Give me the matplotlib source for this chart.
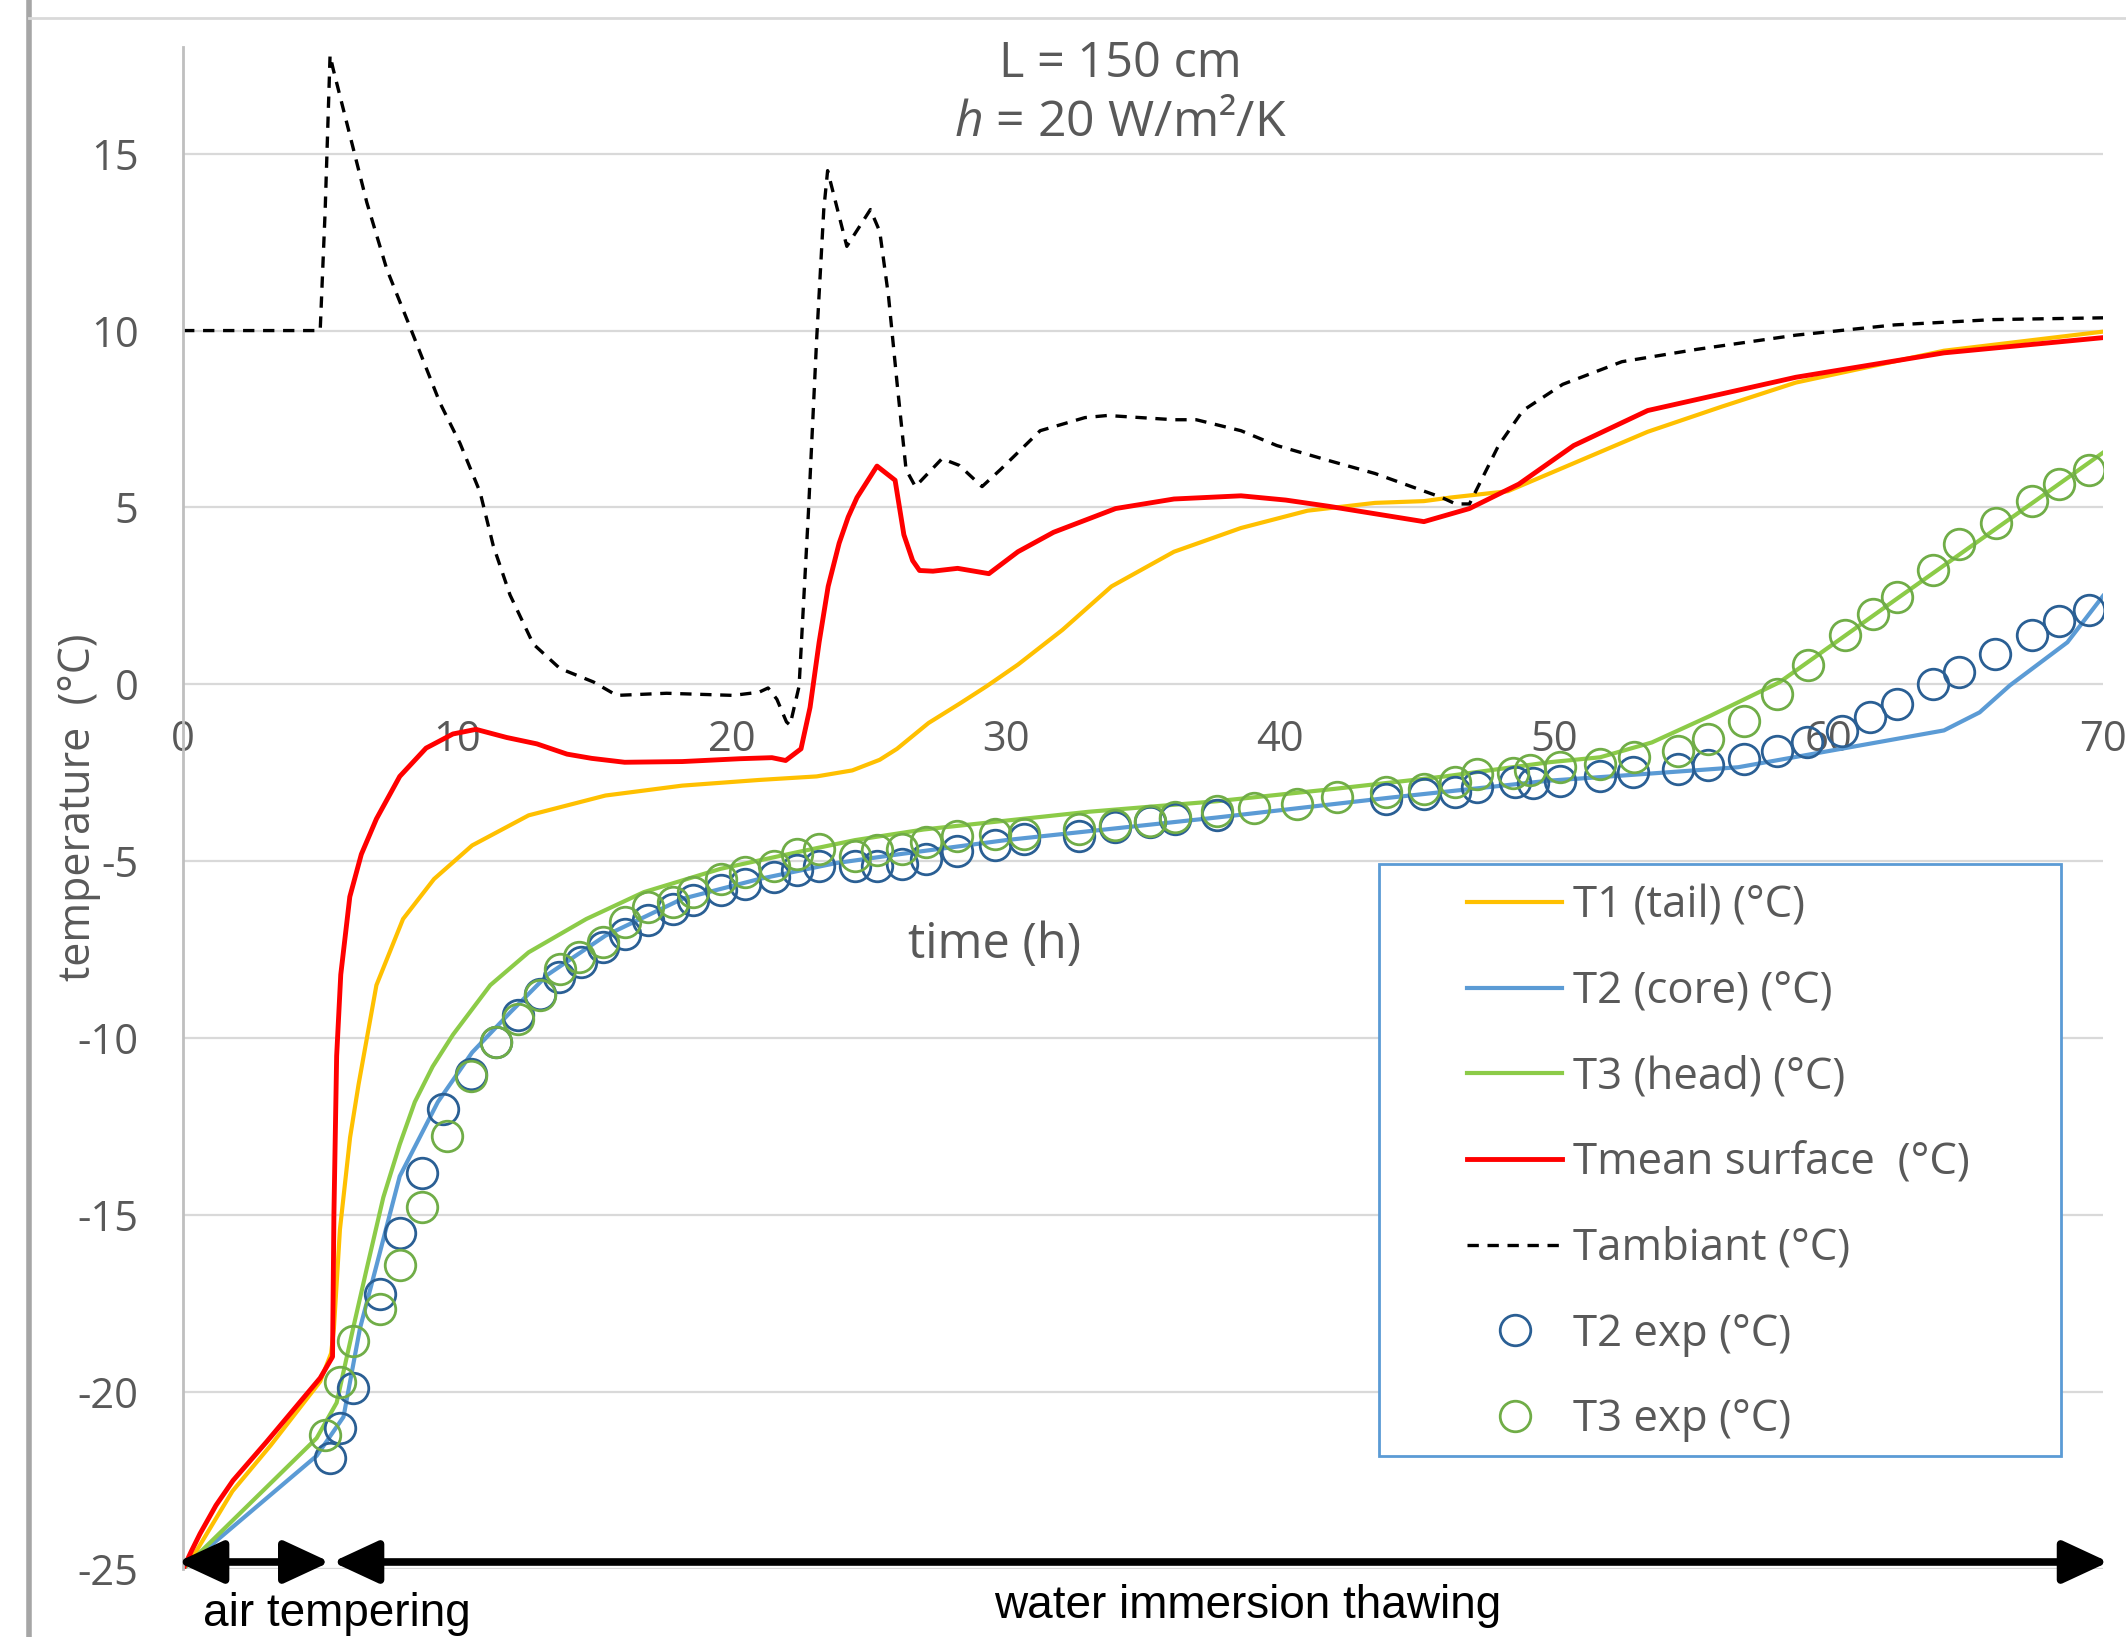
#!/usr/bin/env python3
"""
Thawing of a frozen fish block (L = 150 cm, h = 20 W/m2/K):
simulated temperatures vs. measured core/head temperatures.
"""

import matplotlib
matplotlib.use("Agg")
import matplotlib.pyplot as plt
from matplotlib.lines import Line2D
from matplotlib.patches import Rectangle

# ---- data (time in h, temperature in degC) ----
t1_time = [0, 0.4, 1.8, 3.2, 5.0, 5.4, 5.5, 5.72, 6.09, 6.4, 7.05, 8.02, 9.15, 10.54,
           12.6, 15.4, 18.2, 21.0, 23.1, 24.4, 25.4, 26.03, 27.18, 28.32, 29.3, 30.44,
           32.06, 33.85, 36.13, 38.57, 41.0, 43.46, 45.24, 46.2, 48.3, 50.7, 53.4, 56.1,
           58.8, 64.2, 70.0]
t1_temp = [-25, -24.6, -22.8, -21.5, -19.7, -18.9, -18.2, -15.4, -12.8, -11.3, -8.5, -6.63,
           -5.5, -4.55, -3.7, -3.14, -2.86, -2.7, -2.6, -2.43, -2.13, -1.82, -1.09, -0.54,
           -0.05, 0.56, 1.54, 2.77, 3.75, 4.42, 4.91, 5.13, 5.18, 5.28, 5.46, 6.25, 7.14,
           7.85, 8.53, 9.43, 9.97]

t2_time = [0, 4.87, 5.85, 6.45, 7.06, 7.9, 9.29, 10.54, 11.94, 13.3, 15.4, 18.2, 21.0,
           23.8, 26.1, 30.0, 37.7, 44.0, 49.8, 52.4, 56.7, 61.1, 64.2, 65.5, 66.6, 68.7, 70.0]
t2_temp = [-25, -21.8, -20.7, -18.2, -16.4, -13.9, -11.8, -10.4, -9.26, -8.2, -7.1, -6.06,
           -5.5, -5.05, -4.8, -4.4, -3.76, -3.2, -2.72, -2.58, -2.34, -1.73, -1.3, -0.79,
           -0.03, 1.19, 2.5]

t3_time = [0, 4.87, 5.6, 6.2, 6.7, 7.3, 7.9, 8.45, 9.1, 9.84, 11.2, 12.6, 14.7, 16.8,
           19.6, 22.4, 24.5, 27.0, 30.0, 33.0, 37.7, 42.0, 46.0, 49.8, 51.66, 53.55, 55.7,
           58.2, 60.4, 62.5, 65.0, 67.5, 70.0]
t3_temp = [-25, -21.3, -20.3, -18.2, -16.5, -14.5, -13.0, -11.8, -10.8, -9.9, -8.5, -7.57,
           -6.63, -5.87, -5.21, -4.74, -4.4, -4.1, -3.85, -3.6, -3.3, -2.95, -2.6, -2.2,
           -2.06, -1.64, -0.88, 0.06, 1.27, 2.43, 3.8, 5.17, 6.55]

tmean_time = [0, 0.3, 0.62, 1.2, 1.82, 3.05, 5.0, 5.45, 5.5, 5.6, 5.75, 6.08, 6.5, 7.05,
              7.9, 8.86, 9.84, 10.68, 11.8, 12.9, 14.0, 14.9, 16.1, 18.2, 20.3, 21.47,
              21.97, 22.53, 22.86, 23.19, 23.52, 23.92, 24.25, 24.57, 25.3, 25.96, 26.28,
              26.6, 26.85, 27.34, 28.24, 29.38, 30.44, 31.74, 34.0, 36.13, 38.57, 40.2,
              41.8, 45.24, 46.9, 48.7, 50.7, 53.4, 58.8, 64.2, 70.0]
tmean_temp = [-25, -24.5, -24.0, -23.2, -22.5, -21.4, -19.6, -19.0, -15.0, -10.5, -8.2,
              -6.0, -4.8, -3.8, -2.6, -1.8, -1.4, -1.27, -1.5, -1.68, -1.97, -2.09, -2.2,
              -2.18, -2.1, -2.07, -2.15, -1.82, -0.65, 1.19, 2.77, 3.99, 4.73, 5.28, 6.17,
              5.77, 4.23, 3.5, 3.22, 3.2, 3.28, 3.13, 3.75, 4.3, 4.97, 5.24, 5.33, 5.21,
              5.03, 4.6, 4.97, 5.66, 6.75, 7.74, 8.68, 9.37, 9.8]

tamb_time = [0, 5.0, 5.18, 5.36, 5.47, 6.21, 6.7, 7.43, 8.28, 9.37, 10.1, 10.83, 11.31,
             11.92, 12.77, 13.74, 14.96, 15.81, 17.63, 20.06, 21.0, 21.33, 21.65, 22.0,
             22.13, 22.46, 22.8, 23.1, 23.36, 23.5, 24.2, 25.06, 25.4, 25.72, 26.03, 26.36,
             26.7, 27.67, 28.3, 29.13, 29.8, 31.25, 32.88, 33.7, 36.13, 36.94, 38.57, 39.88,
             41.8, 43.46, 45.9, 46.4, 46.9, 47.96, 48.85, 50.3, 52.46, 55.2, 58.8, 62.4,
             66.0, 70.0]
tamb_temp = [10, 10, 13.37, 17.78, 17.4, 15.13, 13.62, 11.73, 10.09, 7.95, 6.81, 5.43, 3.92,
             2.53, 1.14, 0.45, 0.07, -0.31, -0.25, -0.31, -0.22, -0.1, -0.42, -1.06, -1.15,
             -0.05, 4.86, 9.75, 13.42, 14.52, 12.38, 13.42, 12.8, 10.97, 8.53, 6.07, 5.59,
             6.38, 6.19, 5.59, 6.07, 7.17, 7.54, 7.6, 7.48, 7.48, 7.17, 6.75, 6.32, 5.96,
             5.28, 5.1, 5.1, 6.75, 7.74, 8.48, 9.12, 9.47, 9.87, 10.16, 10.31, 10.36]

t2_exp_time = [5.36, 5.72, 6.21, 7.18, 7.91, 8.7, 9.49, 10.5, 11.4, 12.2, 13.0, 13.7, 14.5,
               15.3, 16.1, 16.95, 17.86, 18.6, 19.6, 20.5, 21.56, 22.4, 23.2, 24.5, 25.3,
               26.2, 27.1, 28.2, 29.6, 30.66, 32.65, 33.97, 35.25, 36.15, 37.7, 43.85,
               45.23, 46.37, 47.17, 48.56, 49.2, 50.2, 51.66, 52.86, 54.5, 55.6, 56.9, 58.1,
               59.2, 60.5, 61.5, 62.5, 63.8, 64.75, 66.06, 67.4, 68.4, 69.5]
t2_exp_temp = [-21.87, -21.0, -19.87, -17.24, -15.5, -13.8, -12.0, -11.0, -10.1, -9.35,
               -8.74, -8.27, -7.85, -7.43, -7.05, -6.66, -6.34, -6.1, -5.82, -5.64, -5.45,
               -5.25, -5.12, -5.12, -5.12, -5.07, -4.93, -4.7, -4.55, -4.37, -4.27, -4.04,
               -3.9, -3.8, -3.7, -3.24, -3.1, -3.03, -2.9, -2.77, -2.8, -2.72, -2.58, -2.48,
               -2.39, -2.28, -2.11, -1.87, -1.64, -1.31, -0.93, -0.56, 0.0, 0.34, 0.86,
               1.4, 1.8, 2.09]

t3_exp_time = [5.18, 5.72, 6.21, 7.18, 7.91, 8.7, 9.61, 10.5, 11.4, 12.2, 13.0, 13.74,
               14.44, 15.3, 16.1, 16.95, 17.86, 18.6, 19.6, 20.5, 21.56, 22.4, 23.2, 24.5,
               25.3, 26.2, 27.1, 28.2, 29.6, 30.66, 32.65, 33.97, 35.25, 36.15, 37.7, 39.05,
               40.6, 42.06, 43.85, 45.23, 46.37, 47.17, 48.5, 49.1, 50.2, 51.66, 52.9, 54.5,
               55.6, 56.9, 58.1, 59.25, 60.6, 61.6, 62.5, 63.8, 64.75, 66.1, 67.4, 68.4, 69.5]
t3_exp_temp = [-21.2, -19.7, -18.55, -17.66, -16.4, -14.77, -12.77, -11.08, -10.1, -9.45,
               -8.78, -8.04, -7.7, -7.28, -6.72, -6.3, -6.15, -5.87, -5.5, -5.3, -5.12,
               -4.79, -4.65, -4.85, -4.68, -4.65, -4.46, -4.27, -4.23, -4.23, -4.08, -3.97,
               -3.85, -3.74, -3.57, -3.5, -3.38, -3.19, -3.05, -2.96, -2.77, -2.53, -2.5,
               -2.43, -2.34, -2.25, -2.06, -1.87, -1.54, -1.03, -0.27, 0.56, 1.4, 1.99,
               2.48, 3.23, 3.98, 4.57, 5.17, 5.66, 6.06]

x_ticks = [0, 10, 20, 30, 40, 50, 60, 70]
y_ticks = [-25, -20, -15, -10, -5, 0, 5, 10, 15]

# process phases shown by the arrows under the plot:
# (label, start h, end h, label x, label baseline)
phases = [("air tempering", -0.2, 5.35, 5.6, -26.62),
          ("water immersion thawing", 5.45, 70.2, 38.8, -26.39)]

GRAY_TEXT = "#595959"


def make_plot(out_file="out.png"):
    plt.rcParams["font.family"] = ["Open Sans", "DejaVu Sans"]
    plt.rcParams["mathtext.fontset"] = "custom"
    plt.rcParams["mathtext.it"] = "Open Sans:italic"
    plt.rcParams["mathtext.rm"] = "Open Sans"

    fig = plt.figure(figsize=(21.26, 16.37), dpi=100)
    ax = fig.add_axes([0.0861, 0.0415, 0.9031, 0.9295])
    ax.set_xlim(0, 70)
    ax.set_ylim(-25, 18)

    # series, in the order of the legend
    l1, = ax.plot(t1_time, t1_temp, color="#FFC000", lw=3, label="T1 (tail) (°C)")
    l2, = ax.plot(t2_time, t2_temp, color="#5B9BD5", lw=3, label="T2 (core) (°C)")
    l3, = ax.plot(t3_time, t3_temp, color="#8CCB48", lw=3, label="T3 (head) (°C)")
    l4, = ax.plot(tmean_time, tmean_temp, color="#FF0000", lw=3.5,
                  label="Tmean surface  (°C)")
    l5, = ax.plot(tamb_time, tamb_temp, color="black", lw=2.4, ls=(0, (3.4, 2.6)),
                  label="Tambiant (°C)")
    l6, = ax.plot(t2_exp_time, t2_exp_temp, ls="none", marker="o", ms=22, mfc="none",
                  mec="#2A5F94", mew=2, label="T2 exp (°C)")
    l7, = ax.plot(t3_exp_time, t3_exp_temp, ls="none", marker="o", ms=22, mfc="none",
                  mec="#70AD47", mew=2, label="T3 exp (°C)")

    # axes styling (Excel look: value axis crossing at 0)
    ax.set_yticks(y_ticks, labels=[str(v) for v in y_ticks])
    ax.set_xticks(x_ticks, labels=[str(v) for v in x_ticks])
    ax.grid(axis="y", color="#D9D9D9", lw=1.6)
    ax.set_axisbelow(True)
    for side in ("top", "right"):
        ax.spines[side].set_visible(False)
    ax.spines["bottom"].set_position(("data", 0))
    ax.spines["bottom"].set_color("none")
    ax.spines["left"].set_color("#BFBFBF")
    ax.spines["left"].set_linewidth(2)
    ax.tick_params(axis="y", length=0, pad=32, labelsize=30, labelcolor=GRAY_TEXT)
    ax.tick_params(axis="x", length=0, pad=25, labelsize=30, labelcolor=GRAY_TEXT)

    ax.text(0.4229, 0.410, "time (h)", transform=ax.transAxes, ha="center",
            va="center", fontsize=35, color=GRAY_TEXT)
    fig.text(0.037, 0.507, "temperature  (°C)", rotation=90, ha="center", va="center",
             fontsize=31, color=GRAY_TEXT)

    fig.text(0.5268, 0.961, "L = 150 cm", ha="center", va="center", fontsize=35,
             color=GRAY_TEXT)
    fig.text(0.5268, 0.925, r"$\mathit{h}$ = 20 W/m²/K", ha="center", va="center",
             fontsize=36, color=GRAY_TEXT)

    # legend: blue framed box, entries indented like the Excel legend
    ax.add_patch(Rectangle((0.623, 0.0743), 0.355, 0.389, transform=ax.transAxes,
                           facecolor="white", edgecolor="#5B9BD5", lw=2, zorder=6))
    leg = ax.legend(handles=[l1, l2, l3, l4, l5, l6, l7], loc="center left",
                    bbox_to_anchor=(0.6688, 0.2668), frameon=False, fontsize=31.5,
                    labelspacing=0.94, handlelength=2.17, handletextpad=0.25,
                    borderpad=0, borderaxespad=0, labelcolor=GRAY_TEXT)
    leg.set_zorder(7)

    # phase arrows and labels under the curves
    for label, start, end, label_x, label_y in phases:
        ax.annotate("", xy=(start, -24.8), xytext=(end, -24.8),
                    arrowprops=dict(arrowstyle="<|-|>,head_length=2.8,head_width=1.3",
                                    color="black", lw=5.5, shrinkA=0, shrinkB=0,
                                    mutation_scale=10),
                    annotation_clip=False, zorder=8)
        ax.text(label_x, label_y, label, ha="center", va="baseline", fontsize=33,
                family="Liberation Sans", clip_on=False)

    # frame remnants of the surrounding slide
    fig.add_artist(Line2D([0.0137, 0.0137], [0, 1], color="#A6A6A6", lw=4))
    fig.add_artist(Line2D([0.0137, 1], [0.989, 0.989], color="#D9D9D9", lw=2))

    fig.savefig(out_file, dpi=100)


if __name__ == "__main__":
    make_plot()
